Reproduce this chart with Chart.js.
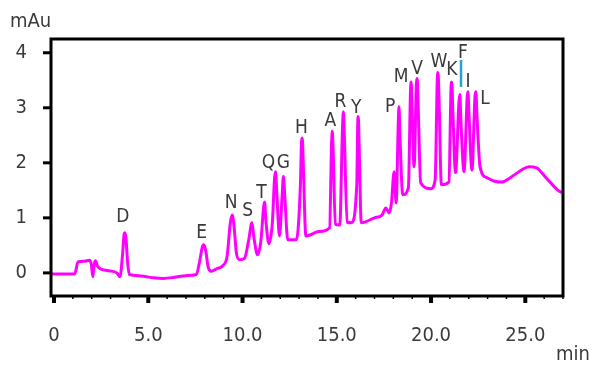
<!DOCTYPE html>
<html>
<head>
<meta charset="utf-8">
<script src="https://cdn.jsdelivr.net/npm/chart.js@4.4.1/dist/chart.umd.min.js"></script>
<style>
  html, body { margin: 0; padding: 0; background: #fff; }
  #wrap { width: 592px; height: 365px; }
</style>
</head>
<body>
<div id="wrap"><canvas id="chrom"></canvas></div>
<script>
// retention time (min) and absorbance (mAu)
const times = [
  -0.15, 0.5, 1.1, 1.27, 1.6, 1.9, 1.98, 2.06, 2.13, 2.2, 2.3, 2.43, 2.9, 3.33, 3.5,
  3.64, 3.71, 3.76, 3.82, 3.9, 4.0, 4.5, 4.9, 5.3, 5.8, 6.4, 7.0, 7.55,
  7.72, 7.87, 7.95, 8.05, 8.18, 8.35, 8.65, 8.95,
  9.18, 9.35, 9.45, 9.54, 9.68, 9.84, 10.1, 10.33, 10.5, 10.6, 10.8,
  10.98, 11.12, 11.17, 11.24, 11.4, 11.58, 11.7, 11.75, 11.81, 11.96,
  12.1, 12.17, 12.24, 12.4, 12.86, 13.07, 13.13, 13.17, 13.22, 13.36,
  14.07, 14.62, 14.72, 14.76, 14.81, 14.92, 15.16, 15.3, 15.35, 15.4, 15.55, 15.77,
  16.06, 16.11, 16.14, 16.18, 16.3, 17.0, 17.4, 17.6, 17.78, 17.9, 18.04, 18.15,
  18.26, 18.3, 18.35, 18.5, 18.8, 18.91, 18.95, 19.0, 19.1, 19.22, 19.27, 19.32, 19.45, 20.0, 20.22,
  20.33, 20.37, 20.42, 20.55, 20.95, 21.06, 21.1, 21.15, 21.3, 21.48, 21.53, 21.58, 21.75,
  21.92, 21.96, 22.01, 22.17, 22.33, 22.38, 22.43, 22.6, 22.96, 23.33, 23.76, 24.2,
  24.8, 25.2, 25.6, 26.1, 26.7, 27.0
];
const absorbance = [
  -0.02, -0.02, -0.02, 0.2, 0.21, 0.23, 0.15, -0.07, 0.15, 0.22, 0.13, 0.08, 0.04, 0.0, -0.07,
  0.35, 0.68, 0.73, 0.62, 0.2, -0.03, -0.05, -0.07, -0.09, -0.1, -0.08, -0.05, -0.03,
  0.2, 0.47, 0.51, 0.4, 0.1, 0.03, 0.08, 0.13,
  0.3, 0.9, 1.05, 0.88, 0.35, 0.24, 0.26, 0.6, 0.91, 0.65, 0.33,
  0.6, 1.2, 1.29, 0.95, 0.53, 0.9, 1.72, 1.84, 1.5, 0.67,
  1.4, 1.75, 1.4, 0.6, 0.6, 1.6, 2.38, 2.45, 2.0, 0.67,
  0.75, 0.82, 2.3, 2.58, 2.2, 0.88, 0.87, 2.6, 2.93, 2.5, 0.92, 0.91,
  1.6, 2.7, 2.84, 2.4, 0.91, 1.0, 1.05, 1.18, 1.09, 1.27, 1.84, 1.27,
  2.7, 3.02, 2.5, 1.42, 1.55, 3.3, 3.47, 2.9, 1.93, 3.4, 3.53, 3.0, 1.64, 1.53, 1.7,
  3.5, 3.64, 3.2, 1.6, 1.65, 3.35, 3.47, 3.0, 1.82, 3.1, 3.24, 2.8, 1.84,
  3.2, 3.29, 2.9, 1.87, 3.2, 3.29, 2.9, 1.93, 1.73, 1.67, 1.65, 1.73,
  1.87, 1.93, 1.91, 1.73, 1.51, 1.45
];

// amino acid peak labels: letter, time, height of label centre
const peakNames = ['D','E','N','S','T','Q','G','H','A','R','Y','P','M','V','W','K','F','I','L'];
const peakTimes = [3.65, 7.83, 9.4, 10.27, 11.0, 11.38, 12.17, 13.12, 14.66, 15.19, 16.03, 17.83, 18.41, 19.26, 20.42, 21.11, 21.69, 21.96, 22.86];
const peakLabelY = [1.02, 0.73, 1.27, 1.13, 1.45, 2.0, 2.0, 2.64, 2.75, 3.11, 3.0, 3.02, 3.55, 3.71, 3.84, 3.69, 4.0, 3.47, 3.15];

// blue marker under F
const markerT = [21.59, 21.59];
const markerY = [3.38, 3.87];

const yTicks = [0, 1, 2, 3, 4];
const xMajor = [0, 5, 10, 15, 20, 25];
const xLabels = ['0', '5.0', '10.0', '15.0', '20.0', '25.0'];

const FONT = "'DejaVu Sans Condensed', 'Liberation Sans Narrow', 'Noto Sans', sans-serif";
const TXT = '#3a3a3a';

const decor = {
  id: 'decor',
  afterDraw(chart) {
    const { ctx, chartArea: a, scales: { x, y } } = chart;
    ctx.save();
    // plot frame
    ctx.strokeStyle = '#000';
    ctx.lineWidth = 3;
    ctx.strokeRect(a.left, a.top, a.right - a.left, a.bottom - a.top);

    // y ticks
    yTicks.forEach(v => {
      const py = y.getPixelForValue(v);
      ctx.beginPath(); ctx.moveTo(a.left - 8, py); ctx.lineTo(a.left, py); ctx.stroke();
    });
    // x minor + major ticks
    for (let m = 0; m <= 27; m++) {
      const px = x.getPixelForValue(m);
      ctx.beginPath();
      if (m % 5 === 0) {
        ctx.lineWidth = 4;
        ctx.moveTo(px, a.bottom); ctx.lineTo(px, a.bottom + 7);
      } else {
        ctx.lineWidth = 1.5;
        ctx.moveTo(px, a.bottom); ctx.lineTo(px, a.bottom + 3);
      }
      ctx.stroke();
    }

    // peak letters
    ctx.fillStyle = TXT;
    ctx.font = '19px ' + FONT;
    ctx.textAlign = 'center';
    ctx.textBaseline = 'middle';
    peakNames.forEach((n, i) => {
      ctx.fillText(n, x.getPixelForValue(peakTimes[i]), y.getPixelForValue(peakLabelY[i]));
    });

    // unit labels
    ctx.font = '20px ' + FONT;
    ctx.textAlign = 'left';
    ctx.fillText('mAu', 10, 22);
    ctx.textAlign = 'right';
    ctx.fillText('min', 590, 355);
    ctx.restore();
  }
};

new Chart(document.getElementById('chrom').getContext('2d'), {
  type: 'line',
  data: {
    datasets: [
      {
        data: times.map((t, i) => ({ x: t, y: absorbance[i] })),
        borderColor: '#ff00ff', borderWidth: 3,
        pointRadius: 0, cubicInterpolationMode: 'monotone', fill: false
      },
      {
        data: markerT.map((t, i) => ({ x: t, y: markerY[i] })),
        borderColor: '#2a9fd0', borderWidth: 2.5,
        pointRadius: 0, fill: false
      }
    ]
  },
  options: {
    responsive: true,
    maintainAspectRatio: false,
    animation: false,
    layout: { padding: { top: 39, right: 29, left: 0, bottom: 0 } },
    plugins: { legend: { display: false }, tooltip: { enabled: false } },
    scales: {
      x: {
        type: 'linear', min: -0.16, max: 27.0,
        afterFit: s => { s.height = 69; },
        afterBuildTicks: s => { s.ticks = xMajor.map(v => ({ value: v })); },
        grid: { display: false, drawTicks: false },
        border: { display: false },
        ticks: {
          padding: 28, color: TXT, font: { family: FONT, size: 20 },
          maxRotation: 0, autoSkip: false,
          callback: v => xLabels[xMajor.indexOf(v)]
        }
      },
      y: {
        min: -0.42, max: 4.25,
        afterFit: s => { s.width = 51; },
        afterBuildTicks: s => { s.ticks = yTicks.map(v => ({ value: v })); },
        grid: { display: false, drawTicks: false },
        border: { display: false },
        ticks: { padding: 24, color: TXT, font: { family: FONT, size: 20 } }
      }
    }
  },
  plugins: [decor]
});
</script>
</body>
</html>
